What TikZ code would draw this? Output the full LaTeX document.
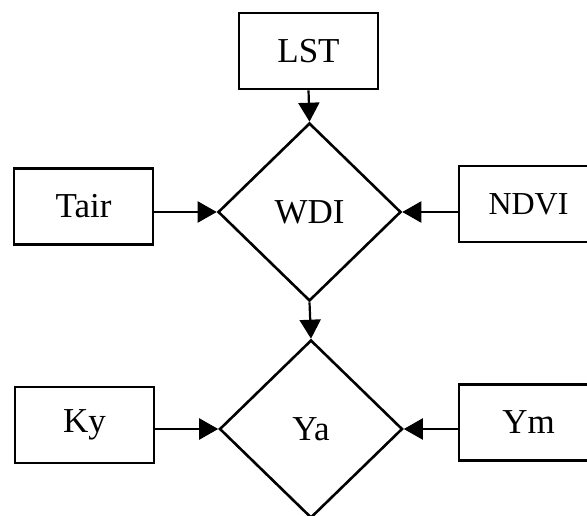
\documentclass[tikz,border=0pt]{standalone}
\usepackage{fontspec}
\setmainfont{Liberation Serif}
\usetikzlibrary{shapes.geometric,arrows.meta}
\tikzset{
  inbox/.style={draw, line width=2.6pt, inner sep=0pt, minimum width=139pt,
    minimum height=76pt, font=\fontsize{35}{40}\selectfont},
  calc/.style={draw, diamond, line width=2.6pt, inner sep=0pt, minimum width=183pt,
    minimum height=178pt, font=\fontsize{35}{40}\selectfont},
  flow/.style={line width=2.2pt, -{Triangle[length=19pt,width=21pt]}}
}
\begin{document}
\begin{tikzpicture}[x=1pt,y=-1pt]
  \useasboundingbox (0,0) rectangle (587,516);
  \clip (0,0) rectangle (587,516);
  % input boxes
  \node[inbox] (lst)  at (308.5,51) {LST};
  \node[inbox] (tair) at (83.5,206.5) {Tair};
  \node[inbox, font=\fontsize{32}{38}\selectfont] (ndvi) at (528.5,204) {NDVI};
  \node[inbox] (ky)   at (84.5,425) {Ky};
  \node[inbox] (ym)   at (528.5,422.5) {Ym};
  % index diamonds
  \node[calc] (wdi) at (309.5,212) {WDI};
  \node[calc] (ya)  at (311,429) {Ya};
  % connectors
  \draw[flow] (lst.south) -- (wdi.north);
  \draw[flow] (tair.east |- wdi.west) -- (wdi.west);
  \draw[flow] (ndvi.west |- wdi.east) -- (wdi.east);
  \draw[flow] (wdi.south) -- (ya.north);
  \draw[flow] (ky.east |- ya.west) -- (ya.west);
  \draw[flow] (ym.west |- ya.east) -- (ya.east);
\end{tikzpicture}
\end{document}
